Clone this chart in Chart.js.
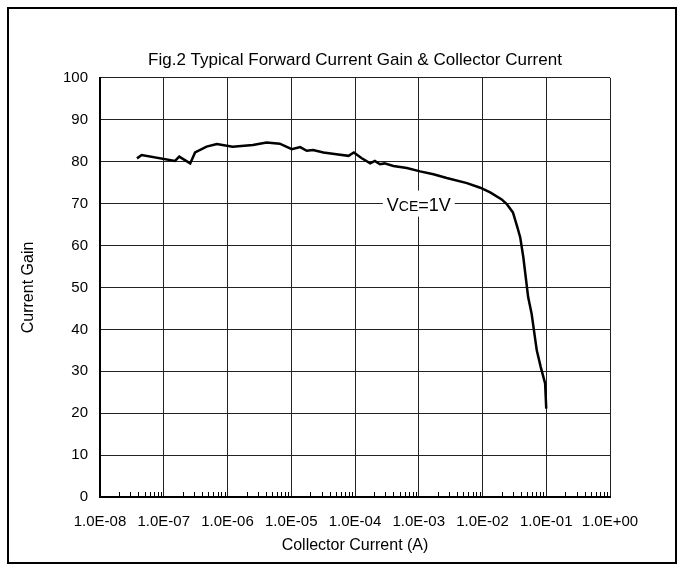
<!DOCTYPE html>
<html>
<head>
<meta charset="utf-8">
<script src="https://cdn.jsdelivr.net/npm/chart.js@4"></script>
<style>
  body { margin: 0; background: #fff; }
  #wrap { position: relative; width: 683px; height: 569px; }
  #frame { position: absolute; left: 7px; top: 7px; width: 666px; height: 553px; border: 2px solid #000; pointer-events: none; }
  canvas { position: absolute; left: 0; top: 0; }
</style>
</head>
<body>
<div id="wrap">
  <canvas id="myChart" width="683" height="569"></canvas>
  <div id="frame"></div>
</div>
<script>
// collector current (A) and matching current gain
const current = [
  3.8e-8, 4.5e-8, 1.5e-7, 1.75e-7, 2.6e-7, 3.1e-7, 4.7e-7, 6.8e-7,
  1.2e-6, 2.5e-6, 4.1e-6, 6.6e-6, 1.02e-5, 1.38e-5, 1.75e-5, 2.2e-5,
  3.2e-5, 5.1e-5, 7.9e-5, 9.6e-5, 1.26e-4, 1.73e-4, 2.05e-4, 2.46e-4,
  2.9e-4, 4.0e-4, 6.5e-4, 1.05e-3, 1.7e-3, 2.75e-3, 5.7e-3, 9.2e-3,
  1.32e-2, 2.0e-2, 2.4e-2, 3.0e-2, 3.5e-2, 3.9e-2, 4.37e-2, 5.2e-2,
  5.9e-2, 7.1e-2, 8.2e-2, 9.6e-2, 1.0e-1
];
const gain = [
  80.8, 81.6, 80.2, 81.2, 79.6, 82.2, 83.6, 84.2,
  83.6, 84.0, 84.6, 84.3, 83.0, 83.5, 82.6, 82.8,
  82.2, 81.8, 81.4, 82.2, 80.9, 79.6, 80.2, 79.4,
  79.6, 79.0, 78.5, 77.7, 77.0, 76.1, 74.9, 73.8,
  72.7, 71.0, 69.9, 67.9, 64.5, 62.0, 57.2, 47.7,
  43.7, 35.0, 31.0, 27.1, 21.1
];
const decades = [-8, -7, -6, -5, -4, -3, -2, -1, 0];
const yTicks = [0, 10, 20, 30, 40, 50, 60, 70, 80, 90, 100];
const curveLabel = { x: 1e-3, y: 70 };

const FONT = '"Liberation Sans", Arial, sans-serif';

function sci(v) {
  const e = Math.round(Math.log10(v));
  return '1.0E' + (e < 0 ? '-' : '+') + String(Math.abs(e)).padStart(2, '0');
}

const extras = {
  id: 'extras',
  afterDatasetsDraw(chart) {
    const { ctx, chartArea } = chart;
    const x = chart.scales.x, y = chart.scales.y;
    ctx.save();
    // minor ticks along the bottom axis
    ctx.strokeStyle = '#000';
    ctx.lineWidth = 1;
    ctx.beginPath();
    for (let i = 0; i < decades.length - 1; i++) {
      for (let m = 2; m < 10; m++) {
        const px = Math.round(x.getPixelForValue(m * Math.pow(10, decades[i]))) + 0.5;
        ctx.moveTo(px, chartArea.bottom);
        ctx.lineTo(px, chartArea.bottom - 5);
      }
    }
    ctx.stroke();
    // curve label
    const cx = x.getPixelForValue(curveLabel.x);
    const cy = y.getPixelForValue(curveLabel.y);
    const big = '18px ' + FONT;
    const small = '14px ' + FONT;
    ctx.font = big;
    const w1 = ctx.measureText('V').width;
    const w3 = ctx.measureText('=1V').width;
    ctx.font = small;
    const w2 = ctx.measureText('CE').width;
    const total = w1 + w2 + w3;
    ctx.fillStyle = '#fff';
    ctx.fillRect(cx - total / 2 - 4, cy - 13, total + 8, 26);
    ctx.fillStyle = '#000';
    ctx.textBaseline = 'alphabetic';
    let tx = cx - total / 2;
    const base = cy + 7;
    ctx.font = big;
    ctx.fillText('V', tx, base);
    tx += w1;
    ctx.font = small;
    ctx.fillText('CE', tx, base);
    tx += w2;
    ctx.font = big;
    ctx.fillText('=1V', tx, base);
    ctx.restore();
  }
};

new Chart(document.getElementById('myChart'), {
  type: 'line',
  data: {
    datasets: [{
      label: 'VCE=1V',
      data: current.map((c, i) => ({ x: c, y: gain[i] })),
      borderColor: '#000',
      borderWidth: 2.5,
      pointRadius: 0,
      tension: 0,
      fill: false
    }]
  },
  options: {
    responsive: false,
    animation: false,
    layout: { padding: { left: 0, right: 73, top: 0, bottom: 0 } },
    plugins: {
      legend: { display: false },
      tooltip: { enabled: false },
      title: {
        display: true,
        fullSize: false,
        text: 'Fig.2 Typical Forward Current Gain & Collector Current',
        color: '#000',
        font: { family: FONT, size: 17, weight: 'normal' },
        padding: { top: 50, bottom: 7.5 }
      }
    },
    scales: {
      x: {
        type: 'logarithmic',
        min: 1e-8,
        max: 1,
        afterBuildTicks: s => { s.ticks = decades.map(e => ({ value: Math.pow(10, e) })); },
        afterFit: s => { s.height = 72; },
        ticks: {
          callback: v => sci(v),
          color: '#000',
          font: { family: FONT, size: 15 },
          maxRotation: 0,
          autoSkip: false,
          padding: 16
        },
        grid: { color: '#222', lineWidth: 1, drawTicks: false },
        border: { color: '#000', width: 2 },
        title: {
          display: true,
          text: 'Collector Current (A)',
          color: '#000',
          font: { family: FONT, size: 16 },
          padding: { top: 0, bottom: 14 }
        }
      },
      y: {
        min: 0,
        max: 100,
        afterBuildTicks: s => { s.ticks = yTicks.map(v => ({ value: v })); },
        afterFit: s => { s.width = 100; },
        ticks: {
          color: '#000',
          font: { family: FONT, size: 15 },
          padding: 12
        },
        grid: { color: '#222', lineWidth: 1, drawTicks: false },
        border: { color: '#000', width: 2 },
        title: {
          display: true,
          text: 'Current Gain',
          color: '#000',
          font: { family: FONT, size: 16 },
          padding: { top: 19, bottom: 0 }
        }
      }
    }
  },
  plugins: [extras]
});
</script>
</body>
</html>
